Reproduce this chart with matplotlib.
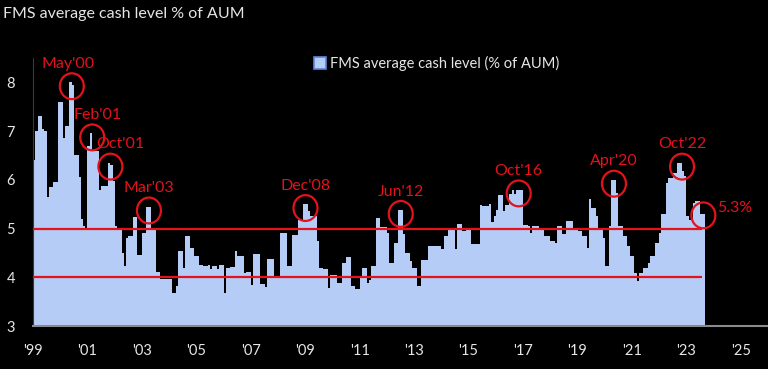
import numpy as np
import matplotlib.pyplot as plt
from matplotlib.patches import Ellipse
from matplotlib.lines import Line2D

# FMS average cash level (% of AUM), monthly, Jan 1999 - Aug 2023
cash_1999 = [6.4, 7.0, 7.3, 7.3, 7.05, 7.0, 5.65, 5.85, 5.85, 5.95, 5.95, 7.6]
cash_2000 = [7.6, 6.85, 7.1, 7.1, 8.0, 7.95, 6.5, 6.5, 6.05, 5.2, 5.05, 4.98]
cash_2001 = [6.7, 6.95, 6.6, 6.6, 6.6, 5.8, 5.87, 5.87, 5.87, 6.35, 6.3, 5.98]
cash_2002 = [5.05, 5.0, 4.98, 4.5, 4.23, 4.8, 4.85, 4.85, 5.24, 5.24, 4.45, 4.45]
cash_2003 = [4.9, 4.9, 5.45, 5.45, 4.96, 4.96, 4.1, 4.1, 3.97, 3.97, 3.97, 3.97]
cash_2004 = [3.97, 3.68, 3.68, 3.82, 4.53, 4.53, 4.19, 4.84, 4.84, 4.6, 4.6, 4.43]
cash_2005 = [4.43, 4.26, 4.26, 4.23, 4.23, 4.26, 4.16, 4.24, 4.24, 4.16, 4.26, 4.26]
cash_2006 = [3.68, 4.19, 4.19, 4.22, 4.22, 4.53, 4.43, 4.43, 4.43, 4.09, 4.1, 4.1]
cash_2007 = [3.85, 4.47, 4.47, 4.47, 3.86, 3.86, 3.8, 4.38, 4.38, 4.38, 4.03, 4.03]
cash_2008 = [4.03, 4.91, 4.91, 4.91, 4.23, 4.23, 4.86, 4.86, 4.86, 5.18, 5.18, 5.5]
cash_2009 = [5.5, 5.35, 5.25, 5.25, 5.25, 4.74, 4.19, 4.19, 4.16, 4.16, 3.78, 4.05]
cash_2010 = [4.05, 4.05, 3.88, 3.88, 4.29, 4.29, 4.42, 4.42, 3.82, 3.82, 3.75, 3.75]
cash_2011 = [4.0, 4.19, 4.19, 3.88, 3.95, 4.23, 4.23, 5.22, 5.22, 5.03, 5.03, 5.03]
cash_2012 = [4.9, 4.3, 4.3, 4.7, 4.7, 5.38, 5.38, 4.88, 4.5, 4.5, 4.33, 4.19]
cash_2013 = [4.19, 3.82, 3.82, 4.36, 4.36, 4.36, 4.64, 4.64, 4.64, 4.64, 4.64, 4.64]
cash_2014 = [4.57, 4.84, 4.84, 4.98, 4.98, 4.98, 4.57, 5.1, 5.1, 4.95, 4.95, 5.0]
cash_2015 = [5.0, 4.68, 4.68, 4.68, 4.68, 5.49, 5.47, 5.47, 5.47, 5.51, 5.13, 5.25]
cash_2016 = [5.39, 5.68, 5.68, 5.36, 5.49, 5.49, 5.7, 5.79, 5.7, 5.8, 5.8, 5.8]
cash_2017 = [5.08, 5.08, 5.05, 4.91, 5.05, 5.05, 5.05, 4.98, 4.98, 4.84, 4.84, 4.84]
cash_2018 = [4.74, 4.74, 4.71, 5.05, 5.05, 4.88, 4.88, 5.15, 5.15, 5.15, 4.98, 4.98]
cash_2019 = [4.95, 4.95, 4.84, 4.84, 4.6, 5.61, 5.42, 5.42, 5.25, 4.98, 4.98, 4.81]
cash_2020 = [4.23, 4.23, 5.05, 6.0, 6.0, 5.73, 5.05, 5.05, 4.84, 4.84, 4.64, 4.43]
cash_2021 = [4.43, 4.09, 3.92, 4.09, 4.09, 4.19, 4.19, 4.3, 4.43, 4.43, 4.7, 4.7]
cash_2022 = [4.91, 5.29, 5.29, 5.94, 6.04, 6.04, 6.14, 6.14, 6.35, 6.35, 6.18, 6.07]
cash_2023 = [5.25, 5.18, 5.18, 5.53, 5.56, 5.56, 5.29, 5.3]

cash = np.array(cash_1999 + cash_2000 + cash_2001 + cash_2002 + cash_2003 + cash_2004
                + cash_2005 + cash_2006 + cash_2007 + cash_2008 + cash_2009 + cash_2010
                + cash_2011 + cash_2012 + cash_2013 + cash_2014 + cash_2015 + cash_2016
                + cash_2017 + cash_2018 + cash_2019 + cash_2020 + cash_2021 + cash_2022
                + cash_2023)
dates = 1999 + np.arange(len(cash)) / 12

# highlighted peaks: label, year, month
peak_labels = ["May'00", "Feb'01", "Oct'01", "Mar'03", "Dec'08", "Jun'12", "Oct'16", "Apr'20", "Oct'22"]
peak_years = [2000, 2001, 2001, 2003, 2008, 2012, 2016, 2020, 2022]
peak_months = [5, 2, 10, 3, 12, 6, 10, 4, 10]
label_dx = [-3, 4, 7, 0, 0, 0, 0, 0, 0]

x_ticks = list(range(1999, 2027, 2))
x_ticklabels = ["'" + str(y)[2:] for y in x_ticks]
y_ticks = [3, 4, 5, 6, 7, 8]

BAR = '#b4ccf6'
RED = '#e3121b'
TXT = '#e6e6e6'
plt.rcParams['font.family'] = ['Lato', 'DejaVu Sans']

fig = plt.figure(figsize=(7.68, 3.69), dpi=100, facecolor='black')
ax = fig.add_axes([0.043, 0.1165, 0.957, 0.7265])
ax.set_facecolor('black')

ax.bar(dates, cash, width=1 / 12 * 1.05, align='edge', color=BAR, linewidth=0)

# reference lines at 4% and 5%
ax.hlines([5, 4], 1999, dates[-1], colors=RED, linewidth=1.6, zorder=3)

# circles + labels
for lab, yr, mo, dx in zip(peak_labels, peak_years, peak_months, label_dx):
    i = (yr - 1999) * 12 + mo - 1
    cx = dates[i] + 1 / 24 + 0.05
    cy = cash[i] - 0.08
    ax.add_patch(Ellipse((cx, cy), 0.88, 0.53, fill=False, edgecolor=RED, linewidth=1.6, zorder=4))
    ax.annotate(lab, (cx, cy), xytext=(dx, 16), textcoords='offset points',
                ha='center', va='center', color=RED, fontsize=11.5)

# latest reading
cx = dates[-1] + 1 / 24
cy = cash[-1] - 0.03
ax.add_patch(Ellipse((cx, cy), 0.88, 0.53, fill=False, edgecolor=RED, linewidth=1.6, zorder=4))
ax.annotate(f'{cash[-1]:.1f}%', (cx, cy), xytext=(10, 5), textcoords='offset points',
            ha='left', va='center', color=RED, fontsize=11.5)

ax.set_xlim(1999, 2026)
ax.set_ylim(3, 8.5)
ax.set_xticks(x_ticks)
ax.set_xticklabels(x_ticklabels)
ax.set_yticks(y_ticks)
ax.tick_params(colors=TXT, length=0, labelsize=10.5)
ax.tick_params(axis='x', pad=13)
ax.tick_params(axis='y', pad=13)
for s in ['top', 'right']:
    ax.spines[s].set_visible(False)
ax.spines['left'].set_color('#3a3a3a')
ax.spines['bottom'].set_color('#8a8a8a')
ax.spines['bottom'].set_linewidth(1.5)

handle = Line2D([], [], marker='s', linestyle='none', markersize=8,
                markerfacecolor=BAR, markeredgecolor='#5d86d8', markeredgewidth=1.2)
fig.legend([handle], ['FMS average cash level (% of AUM)'], loc='center',
           bbox_to_anchor=(0.568, 0.829), frameon=False, fontsize=10.5,
           labelcolor=TXT, handletextpad=0.2, handlelength=1.0)

fig.text(0.004, 0.962, 'FMS average cash level % of AUM', color=TXT, fontsize=11.5,
         ha='left', va='center')

fig.savefig('out.png', dpi=100, facecolor='black')
